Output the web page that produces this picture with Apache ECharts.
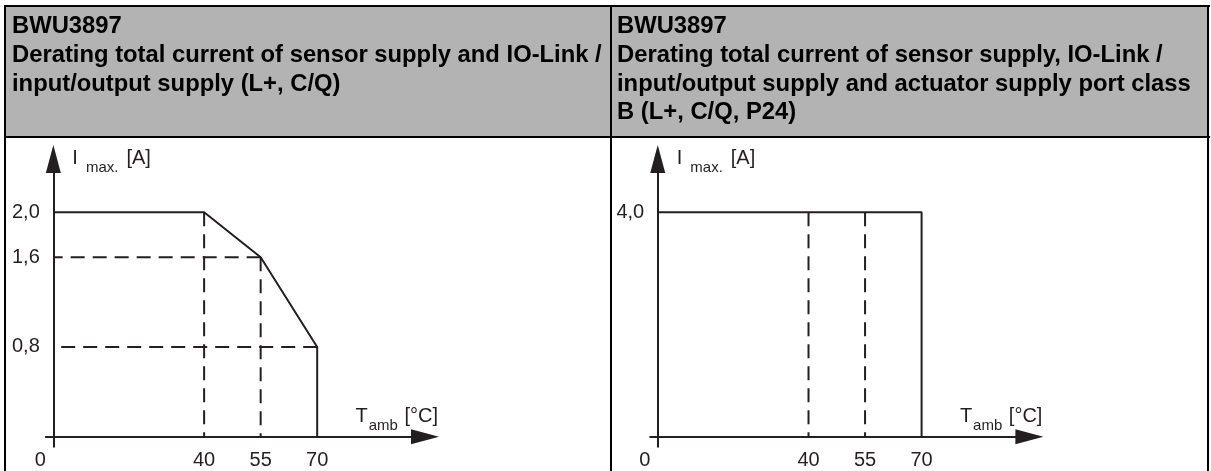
<!DOCTYPE html>
<html>
<head>
<meta charset="utf-8">
<script src="https://cdn.jsdelivr.net/npm/echarts@6/dist/echarts.min.js"></script>
<style>
  html, body { margin: 0; padding: 0; background: #fff; }
  #chart { width: 1211px; height: 471px; }
</style>
</head>
<body>
<div id="chart"></div>
<script>
// header texts
var leftHeader = 'BWU3897\nDerating total current of sensor supply and IO-Link /\ninput/output supply (L+, C/Q)'
var rightHeader = 'BWU3897\nDerating total current of sensor supply, IO-Link /\ninput/output supply and actuator supply port class\nB (L+, C/Q, P24)'

// x ticks (T amb, °C)
var tempTicks = [0, 40, 55, 70]

// left: derating curve L+, C/Q
var leftTemp = [0, 40, 55, 70, 70]
var leftCurrent = [2.0, 2.0, 1.6, 0.8, 0]
var leftCurrentTicks = [0.8, 1.6, 2.0]

// right: L+, C/Q, P24
var rightTemp = [0, 70, 70]
var rightCurrent = [4.0, 4.0, 0]
var rightCurrentTicks = [4.0]

// dashed helper lines: [temp, current]
var leftGuideV = [[40, 2.0], [55, 1.6]]
var leftGuideH = [[55, 1.6], [70, 0.8]]
var rightGuideV = [[40, 4.0], [55, 4.0]]

var ink = '#231f20'
var font = '"Liberation Sans", Arial, sans-serif'
var dash = [14, 8]

function zip(xs, ys) {
  return xs.map(function (x, i) { return [x, ys[i]] })
}

function xAxisOf(idx) {
  return {
    type: 'value',
    gridIndex: idx,
    min: -2,
    max: 98.6,
    name: '{t|T}{s|amb}{t| [°C]}',
    nameLocation: 'end',
    nameGap: 13,
    nameTextStyle: {
      align: 'right',
      verticalAlign: 'bottom',
      padding: [0, 0, 8, 0],
      rich: {
        t: { fontSize: 20, fontFamily: font, color: ink, verticalAlign: 'top', lineHeight: 22 },
        s: { fontSize: 15, fontFamily: font, color: ink, verticalAlign: 'top', lineHeight: 15, padding: [12, 1, 0, 1] }
      }
    },
    axisLine: {
      onZero: true,
      symbol: ['none', 'triangle'],
      symbolSize: [15, 28],
      lineStyle: { color: ink, width: 2 }
    },
    axisTick: { show: false },
    splitLine: { show: false },
    axisLabel: {
      customValues: tempTicks,
      margin: 4,
      fontSize: 20,
      fontFamily: font,
      color: ink,
      formatter: function (v) { return v === 0 ? '{o|0}' : String(v) },
      rich: { o: { fontSize: 20, fontFamily: font, color: ink, padding: [0, 26, 0, 0] } }
    }
  }
}

function yAxisOf(idx, max, min, ticks) {
  return {
    type: 'value',
    gridIndex: idx,
    min: min,
    max: max,
    name: '{t|I}{s|max.}{t|[A]}',
    nameLocation: 'end',
    nameGap: 11,
    nameTextStyle: {
      align: 'left',
      verticalAlign: 'top',
      padding: [0, 0, 0, 19],
      rich: {
        t: { fontSize: 20, fontFamily: font, color: ink, verticalAlign: 'top', lineHeight: 22 },
        s: { fontSize: 15, fontFamily: font, color: ink, verticalAlign: 'top', lineHeight: 15, padding: [12, 8, 0, 8] }
      }
    },
    axisLine: {
      onZero: true,
      symbol: ['none', 'triangle'],
      symbolSize: [15, 28],
      lineStyle: { color: ink, width: 2 }
    },
    axisTick: { show: false },
    splitLine: { show: false },
    axisLabel: {
      customValues: ticks,
      margin: 6,
      fontSize: 20,
      fontFamily: font,
      color: ink,
      formatter: function (v) { return v.toFixed(1).replace('.', ',') }
    }
  }
}

function solid(idx, data) {
  return {
    type: 'line', xAxisIndex: idx, yAxisIndex: idx, data: data,
    symbol: 'none', silent: true, animation: false,
    lineStyle: { color: ink, width: 2 }
  }
}

function dashed(idx, data) {
  return {
    type: 'line', xAxisIndex: idx, yAxisIndex: idx, data: data,
    symbol: 'none', silent: true, animation: false,
    lineStyle: { color: ink, width: 2, type: dash }
  }
}

// helper lines run from the curve point back to the axis
var series = [solid(0, zip(leftTemp, leftCurrent)), solid(1, zip(rightTemp, rightCurrent))]
leftGuideV.forEach(function (p) { series.push(dashed(0, [p, [p[0], 0]])) })
leftGuideH.forEach(function (p) { series.push(dashed(0, [p, [0, p[1]]])) })
rightGuideV.forEach(function (p) { series.push(dashed(1, [p, [p[0], 0]])) })

var headStyle = { fontSize: 23.8, fontWeight: 'bold', fontFamily: font, color: '#000', lineHeight: 28.8 }

var chart = echarts.init(document.getElementById('chart'))
chart.setOption({
  backgroundColor: '#fff',
  animation: false,
  title: [
    { text: leftHeader, left: 12, top: 12, padding: 0, textStyle: headStyle },
    { text: rightHeader, left: 617, top: 12, padding: 0, textStyle: headStyle }
  ],
  graphic: [
    // header band and table rules
    { type: 'rect', z: -1, shape: { x: 6, y: 7, width: 1202, height: 129 }, style: { fill: '#b3b3b3' } },
    { type: 'line', shape: { x1: 4, y1: 6, x2: 1210, y2: 6 }, style: { stroke: '#000', lineWidth: 2 } },
    { type: 'line', shape: { x1: 4, y1: 137, x2: 1210, y2: 137 }, style: { stroke: '#000', lineWidth: 2 } },
    { type: 'line', shape: { x1: 5, y1: 5, x2: 5, y2: 471 }, style: { stroke: '#000', lineWidth: 2 } },
    { type: 'line', shape: { x1: 611, y1: 5, x2: 611, y2: 471 }, style: { stroke: '#000', lineWidth: 2 } },
    { type: 'line', shape: { x1: 1208, y1: 5, x2: 1208, y2: 471 }, style: { stroke: '#000', lineWidth: 2 } }
  ],
  grid: [
    { left: 45.8, top: 159, width: 379.2, height: 287.8, containLabel: false, outerBoundsMode: 'none' },
    { left: 650.2, top: 159, width: 379.2, height: 287.8, containLabel: false, outerBoundsMode: 'none' }
  ],
  xAxis: [xAxisOf(0), xAxisOf(1)],
  yAxis: [
    yAxisOf(0, 2.475, -0.09, leftCurrentTicks),
    yAxisOf(1, 4.95, -0.18, rightCurrentTicks)
  ],
  series: series
})
</script>
</body>
</html>
